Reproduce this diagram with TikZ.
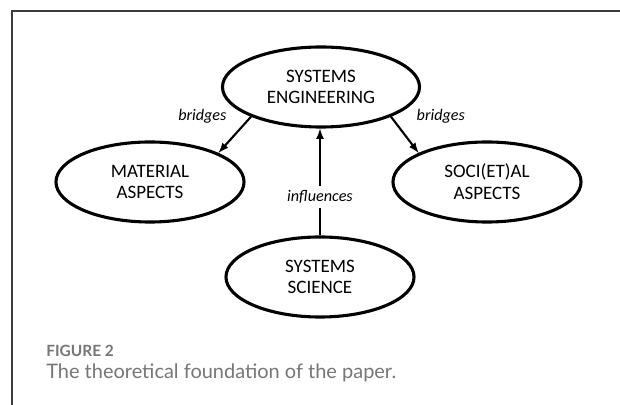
\documentclass[tikz,border=0pt]{standalone}
\usepackage{fontspec}
\setmainfont{Carlito}
\newfontfamily\capfont{Lato}
\usepackage{tikz}
\usetikzlibrary{positioning}
\usetikzlibrary{arrows}
\usetikzlibrary{shapes.geometric}
\definecolor{framegray}{HTML}{3C3C3C}
\definecolor{capgray}{HTML}{767676}

\begin{document}
\begin{tikzpicture}[x=0.025cm,y=-0.025cm]
\tikzset{
  topic/.style={ellipse,draw=black,line width=2.2pt,text centered,align=center,font=\fontsize{13.5}{15.5}\selectfont,minimum width=4.7cm,minimum height=2cm,inner sep=0pt},
  edgetext/.style={text=black,font=\fontsize{11.5}{13}\itshape},
  arrow/.style={-latex,line width=1.5pt,draw=black},
  caption/.style={anchor=west,inner sep=0pt,text=capgray},
}
\useasboundingbox (0,0) rectangle (620,405);
% frame
\draw[framegray,line width=1pt] (620,11) -- (12,11) -- (12,405);
% the four topics
\node[topic,minimum width=4.925cm] (eng) at (321,87) {SYSTEMS\\ENGINEERING};
\node[topic] (material) at (150,182) {MATERIAL\\ASPECTS};
\node[topic] (social) at (487,182) {SOCI(ET)AL\\ASPECTS};
\node[topic] (science) at (320,277) {SYSTEMS\\SCIENCE};
%
\path[arrow] (eng.203) -- node[pos=0,left=0.47cm,edgetext] {bridges} (material.23);
\path[arrow] (eng.-23) -- node[pos=0,right=0.5cm,edgetext] {bridges} (social.157);
\path[arrow] (science.north) -- node[pos=0.36,fill=white,edgetext] {influences} (science.north |- eng.south);
% caption
\node[caption,font=\capfont\bfseries\fontsize{11}{13}\selectfont] (fignum) at (46,351) {FIGURE 2};
\node[caption,font=\capfont\fontsize{14.2}{16}\selectfont] (figtext) at (46,373) {The theoretical foundation of the paper.};
\end{tikzpicture}
\end{document}
